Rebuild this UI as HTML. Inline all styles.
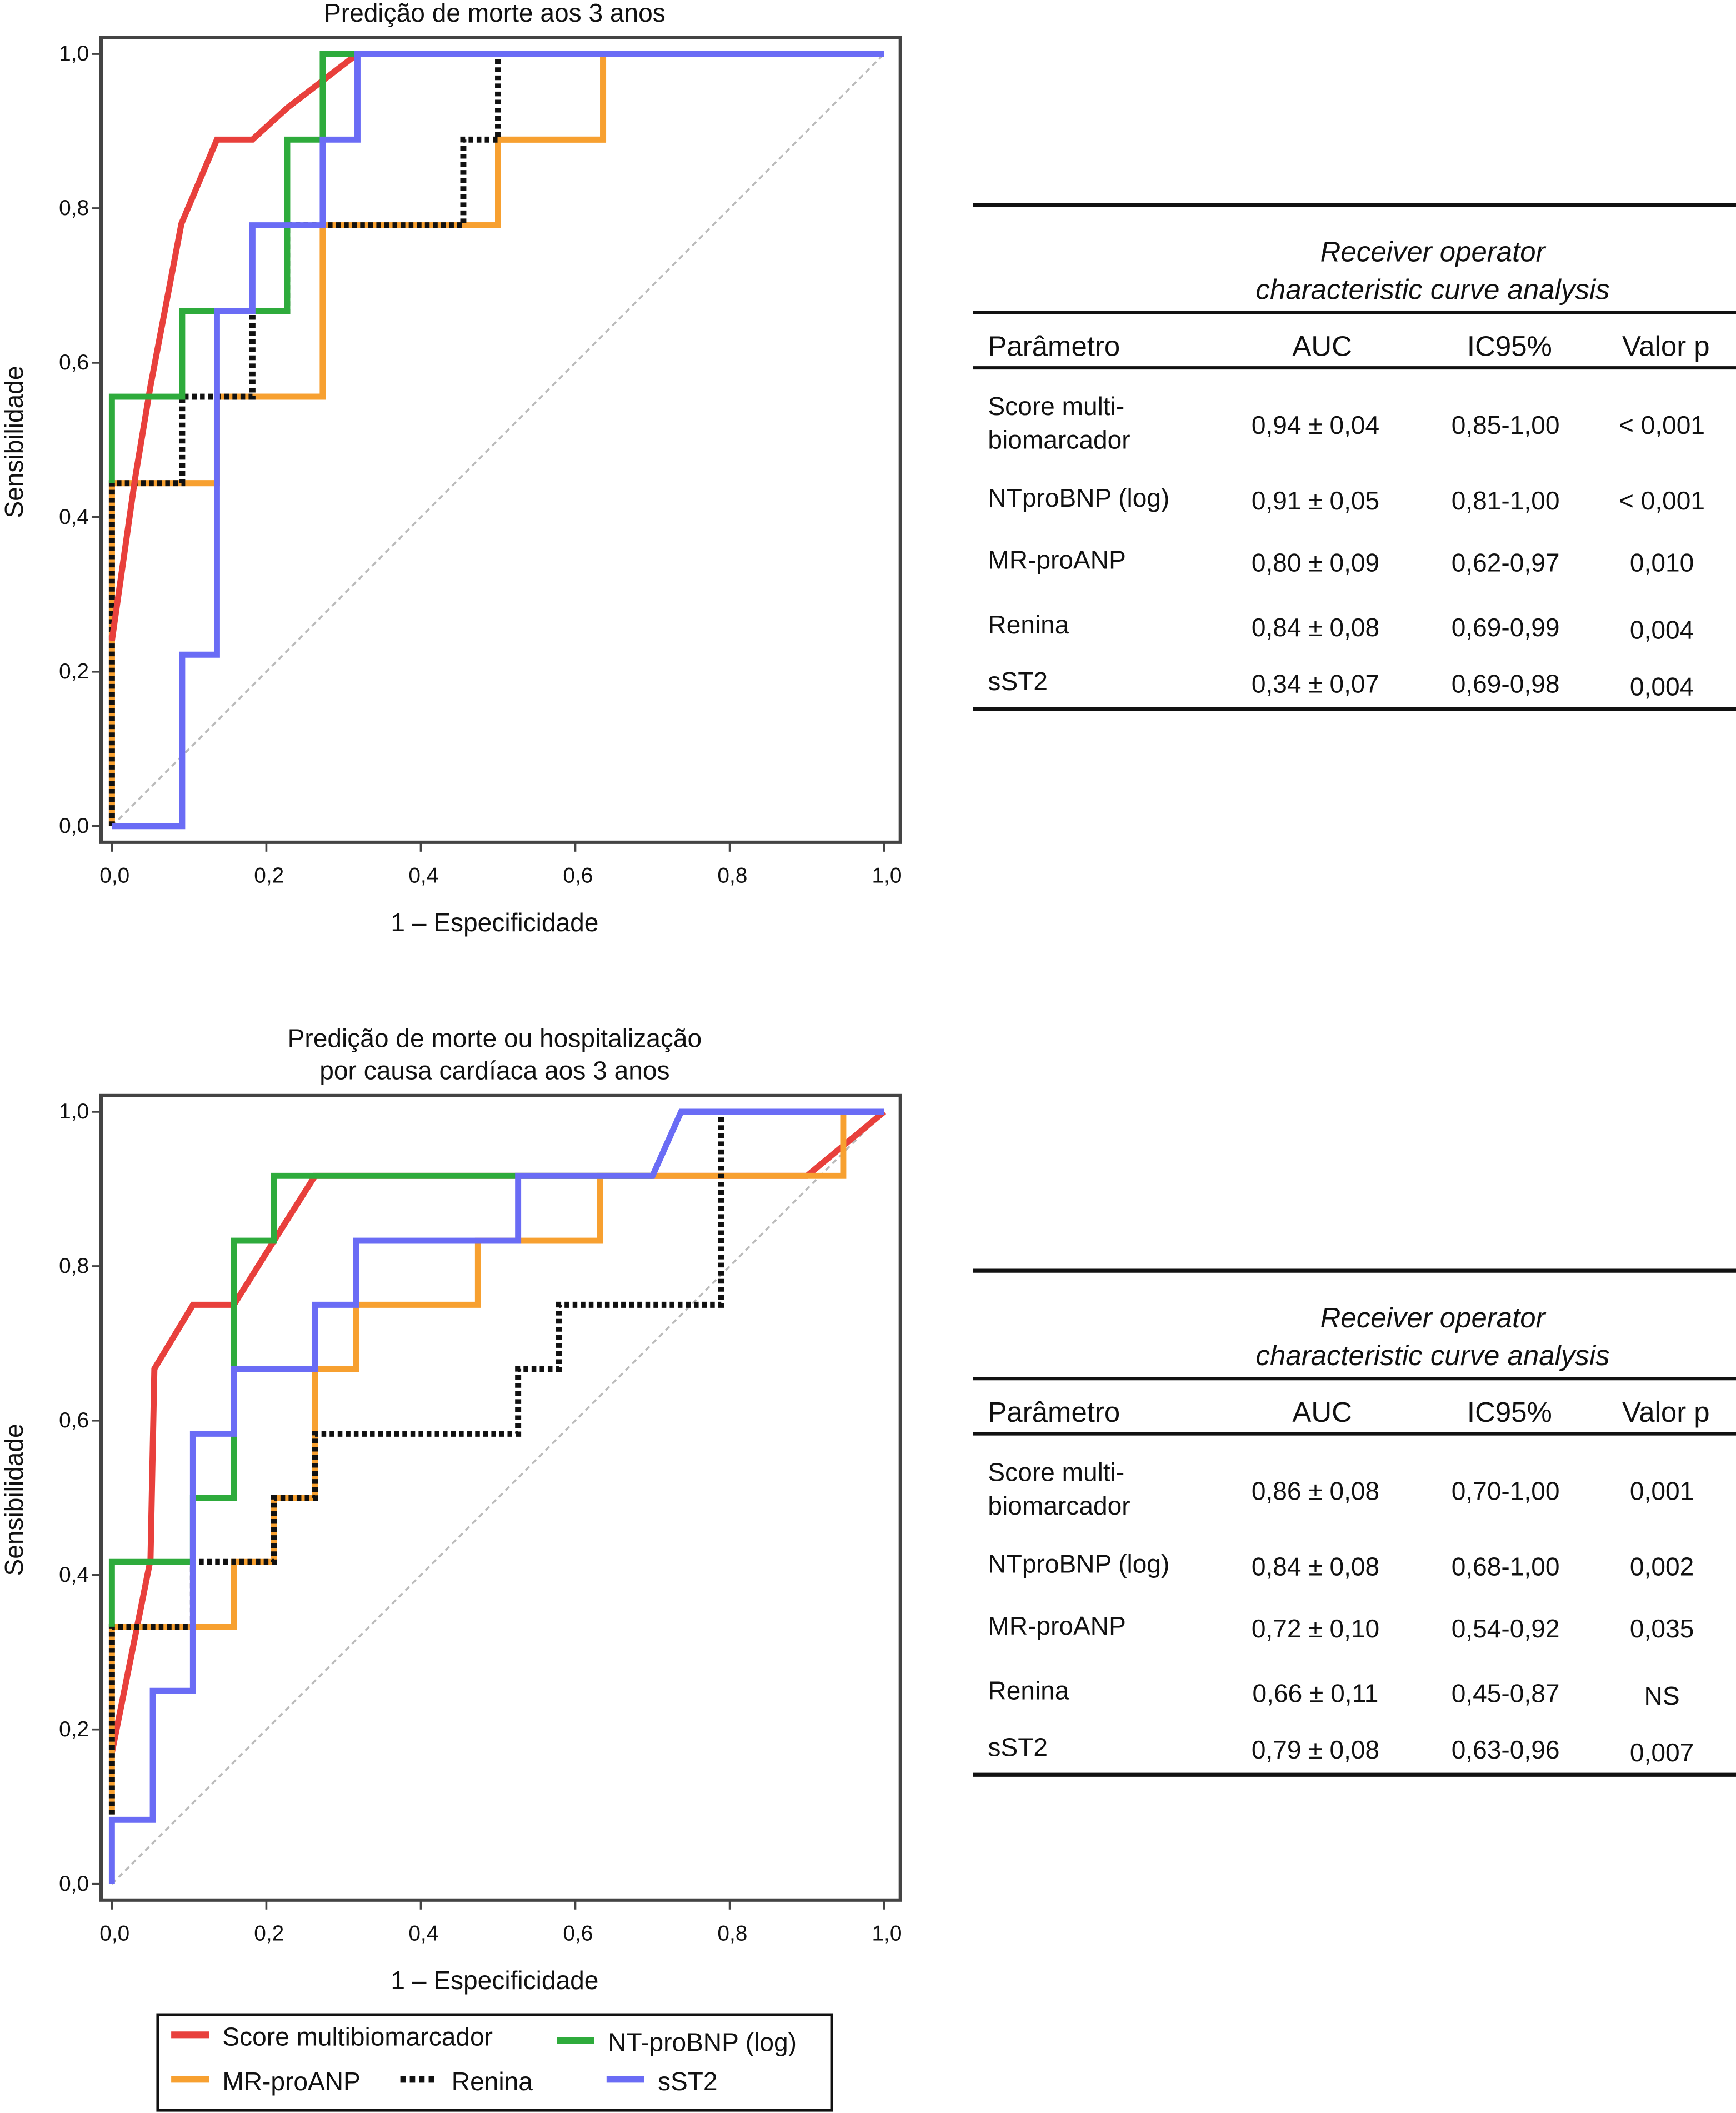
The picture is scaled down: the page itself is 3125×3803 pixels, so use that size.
<!DOCTYPE html>
<html><head><meta charset="utf-8"><style>html,body{margin:0;padding:0;background:#fff}svg{display:block}text{font-family:"Liberation Sans",sans-serif;fill:#111}</style></head>
<body>
<svg id="s" width="3125" height="3803" viewBox="0 0 1288 1568" preserveAspectRatio="none" xmlns="http://www.w3.org/2000/svg">
<g id="tables"></g>
<g id="legend">
<rect x="117" y="1495" width="500" height="71" fill="none" stroke="#111" stroke-width="2"/>
<line x1="127" y1="1510" x2="155" y2="1510" stroke="#e8403c" stroke-width="5"/>
<text x="165" y="1518" font-size="19">Score multibiomarcador</text>
<line x1="413" y1="1514" x2="441" y2="1514" stroke="#2eab3c" stroke-width="5"/>
<text x="451" y="1522" font-size="19">NT-proBNP (log)</text>
<line x1="127" y1="1543" x2="155" y2="1543" stroke="#f7a030" stroke-width="5"/>
<text x="165" y="1551" font-size="19">MR-proANP</text>
<line x1="297" y1="1543" x2="325" y2="1543" stroke="#111" stroke-width="5" stroke-dasharray="4,3"/>
<text x="335" y="1551" font-size="19">Renina</text>
<line x1="450" y1="1543" x2="478" y2="1543" stroke="#6a6cf5" stroke-width="5"/>
<text x="488" y="1551" font-size="19">sST2</text>
</g>
</svg>
<script>
// Top chart data
const topRed = [[0,0.24],[0.03,0.45],[0.05,0.57],[0.09,0.78],[0.136,0.889],[0.182,0.889],[0.227,0.93],[0.318,1],[1,1]];
const topGreen = [[0,0.444],[0,0.556],[0.091,0.556],[0.091,0.667],[0.227,0.667],[0.227,0.889],[0.273,0.889],[0.273,1],[1,1]];
const topOrange = [[0,0],[0,0.444],[0.136,0.444],[0.136,0.556],[0.273,0.556],[0.273,0.778],[0.5,0.778],[0.5,0.889],[0.636,0.889],[0.636,1],[1,1]];
const topBlack = [[0,0],[0,0.444],[0.091,0.444],[0.091,0.556],[0.182,0.556],[0.182,0.667],[0.227,0.667],[0.227,0.778],[0.455,0.778],[0.455,0.889],[0.5,0.889],[0.5,1],[1,1]];
const topBlue = [[0,0],[0.091,0],[0.091,0.222],[0.136,0.222],[0.136,0.667],[0.182,0.667],[0.182,0.778],[0.273,0.778],[0.273,0.889],[0.318,0.889],[0.318,1],[1,1]];
// Bottom chart data
const botRed = [[0,0.17],[0.05,0.42],[0.055,0.667],[0.105,0.75],[0.158,0.75],[0.21,0.833],[0.263,0.917],[0.9,0.917],[1,1]];
const botGreen = [[0,0.333],[0,0.417],[0.105,0.417],[0.105,0.5],[0.158,0.5],[0.158,0.833],[0.21,0.833],[0.21,0.917],[0.7,0.917]];
const botOrange = [[0,0.09],[0,0.333],[0.158,0.333],[0.158,0.417],[0.21,0.417],[0.21,0.5],[0.263,0.5],[0.263,0.667],[0.316,0.667],[0.316,0.75],[0.474,0.75],[0.474,0.833],[0.632,0.833],[0.632,0.917],[0.947,0.917],[0.947,1],[1,1]];
const botBlack = [[0,0.09],[0,0.333],[0.105,0.333],[0.105,0.417],[0.21,0.417],[0.21,0.5],[0.263,0.5],[0.263,0.583],[0.526,0.583],[0.526,0.667],[0.579,0.667],[0.579,0.75],[0.789,0.75],[0.789,1],[1,1]];
const botBlue = [[0,0],[0,0.083],[0.053,0.083],[0.053,0.25],[0.105,0.25],[0.105,0.583],[0.158,0.583],[0.158,0.667],[0.263,0.667],[0.263,0.75],[0.316,0.75],[0.316,0.833],[0.526,0.833],[0.526,0.917],[0.7,0.917],[0.737,1],[1,1]];
const ticks = [0,0.2,0.4,0.6,0.8,1.0];
const tickLabels = ["0,0","0,2","0,4","0,6","0,8","1,0"];
const topRows = [["Score multi-|biomarcador","0,94 ± 0,04","0,85-1,00","< 0,001"],["NTproBNP (log)","0,91 ± 0,05","0,81-1,00","< 0,001"],["MR-proANP","0,80 ± 0,09","0,62-0,97","0,010"],["Renina","0,84 ± 0,08","0,69-0,99","0,004"],["sST2","0,34 ± 0,07","0,69-0,98","0,004"]];
const botRows = [["Score multi-|biomarcador","0,86 ± 0,08","0,70-1,00","0,001"],["NTproBNP (log)","0,84 ± 0,08","0,68-1,00","0,002"],["MR-proANP","0,72 ± 0,10","0,54-0,92","0,035"],["Renina","0,66 ± 0,11","0,45-0,87","NS"],["sST2","0,79 ± 0,08","0,63-0,96","0,007"]];

const NS="http://www.w3.org/2000/svg";
const svg=document.getElementById('s');
function mk(tag,attrs,parent,txt){const e=document.createElementNS(NS,tag);for(const k in attrs)e.setAttribute(k,attrs[k]);if(txt!==undefined)e.textContent=txt;(parent||svg).appendChild(e);return e;}

function chart(prefix, top, titles, series){
  const x0=83,x1=656,y0=top+585,y1=top+12;
  const X=v=>x0+v*(x1-x0), Y=v=>y0-v*(y0-y1);
  const g=mk('g',{});
  
  
  const f=mk('rect',{x:75,y:top,width:593,height:597,fill:'none',stroke:'#444','stroke-width':2.5},g);
  
  
  titles.forEach((t,i)=>{const e=mk('text',{x:367,y:top-36+24*i-(titles.length-1)*24+24,'font-size':19,'text-anchor':'middle'},g,t);
    
    });
  ticks.forEach((t,i)=>{
    mk('line',{x1:X(t),y1:top+597,x2:X(t),y2:top+604,stroke:'#444','stroke-width':1.5},g);
    const a=mk('text',{x:X(t)+2,y:top+627,'font-size':16,'text-anchor':'middle'},g,tickLabels[i]);
    
    
    mk('line',{x1:68,y1:Y(t),x2:75,y2:Y(t),stroke:'#444','stroke-width':1.5},g);
    const b=mk('text',{x:66,y:Y(t)+5,'font-size':16,'text-anchor':'end'},g,tickLabels[i]);
    
    
  });
  const xt=mk('text',{x:367,y:top+663,'font-size':19,'text-anchor':'middle'},g,'1 – Especificidade');
  
  
  const yt=mk('text',{x:0,y:0,'font-size':19,'text-anchor':'middle',transform:`translate(17,${top+300}) rotate(-90)`},g,'Sensibilidade');
  
  
  const d=mk('line',{x1:X(0),y1:Y(0),x2:X(1),y2:Y(1),stroke:'#bbb','stroke-width':1.5,'stroke-dasharray':'4,3'},g);
  
  
  series.forEach(s=>{
    const p=mk('polyline',{points:s.d.map(q=>X(q[0])+','+Y(q[1])).join(' '),fill:'none',stroke:s.c,'stroke-width':4.5,'stroke-linejoin':'miter'},g);
    if(s.dash)p.setAttribute('stroke-dasharray','3.5,2.5');
    
    
  });
}
chart('top',28,['Predição de morte aos 3 anos'],[
 {n:'renina-under',d:topOrange,c:'#f7a030'},
 {n:'mrproanp',d:topOrange,c:'#f7a030'},
 {n:'renina',d:topBlack,c:'#111',dash:1},
 {n:'score',d:topRed,c:'#e8403c'},
 {n:'ntprobnp',d:topGreen,c:'#2eab3c'},
 {n:'sst2',d:topBlue,c:'#6a6cf5'}]);
chart('bottom',813,['Predição de morte ou hospitalização','por causa cardíaca aos 3 anos'],[
 {n:'score',d:botRed,c:'#e8403c'},
 {n:'mrproanp',d:botOrange,c:'#f7a030'},
 {n:'renina',d:botBlack,c:'#111',dash:1},
 {n:'ntprobnp',d:botGreen,c:'#2eab3c'},
 {n:'sst2',d:botBlue,c:'#6a6cf5'}]);

function table(prefix,off,rows){
  const g=mk('g',{},document.getElementById('tables'));
  
  
  [[152,3],[232,2.5],[273,2.5],[526,3]].forEach(l=>mk('line',{x1:722,y1:l[0]+off,x2:1288,y2:l[0]+off,stroke:'#111','stroke-width':l[1]},g));
  mk('text',{x:1063,y:194+off,'font-size':21,'font-style':'italic','text-anchor':'middle'},g,'Receiver operator');
  mk('text',{x:1063,y:222+off,'font-size':21,'font-style':'italic','text-anchor':'middle'},g,'characteristic curve analysis');
  [['Parâmetro',733,'start'],['AUC',981,'middle'],['IC95%',1120,'middle'],['Valor p',1236,'middle']].forEach(h=>{
    const e=mk('text',{x:h[1],y:264+off,'font-size':21,'text-anchor':h[2]},g,h[0]);
    
    });
  const ys=[322,378,424,472,514];
  rows.forEach((r,i)=>{
    const y=ys[i]+off;
    const parts=r[0].split('|');
    if(parts.length>1){mk('text',{x:733,y:y-14,'font-size':19},g,parts[0]);mk('text',{x:733,y:y+11,'font-size':19},g,parts[1]);}
    else mk('text',{x:733,y:y-2,'font-size':19},g,parts[0]);
    mk('text',{x:976,y:y,'font-size':19,'text-anchor':'middle'},g,r[1]);
    mk('text',{x:1117,y:y,'font-size':19,'text-anchor':'middle'},g,r[2]);
    mk('text',{x:1233,y:y+(i>=3?2:0),'font-size':19,'text-anchor':'middle'},g,r[3]);
  });
}
table('top',0,topRows);
table('bottom',791,botRows);
</script>
</body></html>
